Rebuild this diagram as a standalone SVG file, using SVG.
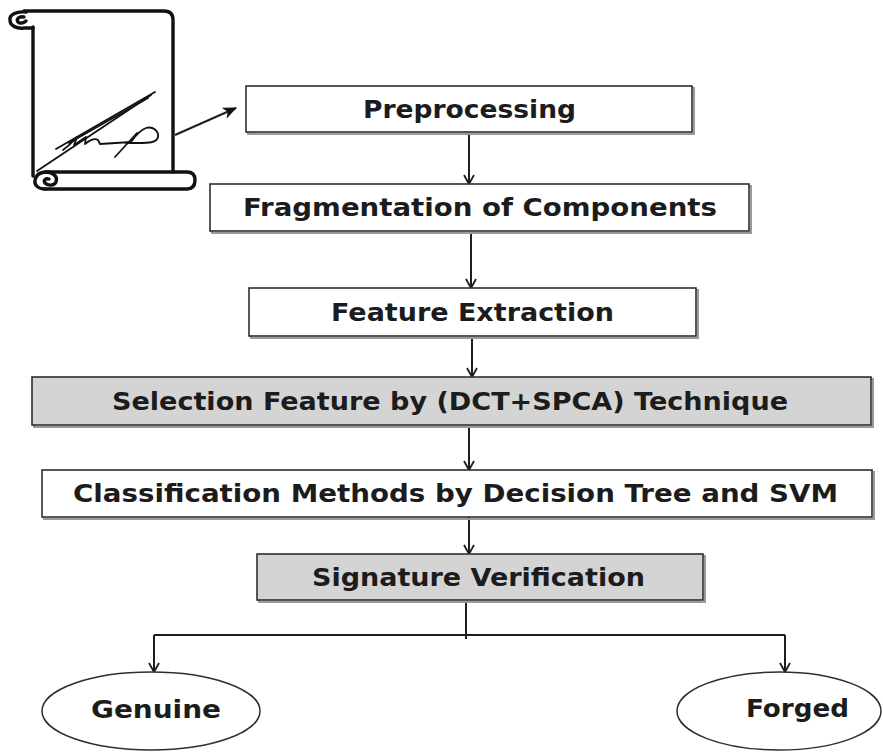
<svg xmlns="http://www.w3.org/2000/svg" width="883" height="752" viewBox="0 0 883 752">
<style>
.box{fill:#ffffff;stroke:#2e2e2e;stroke-width:1.6}
.gray{fill:#d4d4d4}
.shadow{fill:none;stroke:#9a9a9a;stroke-width:2}
.t{font-family:"DejaVu Sans","Liberation Sans",sans-serif;font-weight:700;font-size:25px;fill:#1c1c1c}
.c{fill:none;stroke:#1e1e1e;stroke-width:2}
.ell{fill:#ffffff;stroke:#2e2e2e;stroke-width:1.5}
.ink{fill:none;stroke:#111;stroke-width:3.4;stroke-linecap:round;stroke-linejoin:round}
.pen{fill:none;stroke:#111;stroke-width:1.8;stroke-linecap:round;stroke-linejoin:round}
</style>
<defs>
<marker id="v" viewBox="0 0 12 12" refX="11" refY="6" markerWidth="12" markerHeight="12" markerUnits="userSpaceOnUse" orient="auto">
<path d="M2,1 L11,6 L2,11" fill="none" stroke="#1e1e1e" stroke-width="1.8"/>
</marker>
<marker id="fa" viewBox="0 0 14 12" refX="13" refY="6" markerWidth="14" markerHeight="12" markerUnits="userSpaceOnUse" orient="auto">
<path d="M0,0 L14,6 L0,12 L4,6 Z" fill="#111"/>
</marker>
</defs>
<rect width="883" height="752" fill="#ffffff"/>

<g id="scroll">
<path class="ink" d="M33,27 L33,176"/>
<path class="ink" d="M24,11 L164,11 Q173,11 173,20 L173,172"/>
<path class="ink" d="M26,12 C16,11 9,15 10,20 C10,26 17,29 24,28 L33,28"/>
<path class="ink" d="M24,17 C19,16 16,19 18,22 C20,24 24,23 26,21"/>
<path class="ink" d="M45,172 L187,172 Q195,172 195,180 Q195,189 187,189 L45,189"/>
<path class="ink" d="M45,189 C38,189 34,185 35,180 C36,174 41,172 47,172 C54,173 58,177 56,182 C54,186 48,186 45,183 C43,180 46,178 49,179"/>
<path class="pen" stroke-width="1.2" d="M37,171 L151,95"/>
<path class="pen" stroke-width="2.4" d="M155,92 L56,149"/>
<path class="pen" d="M148,98 L69,143"/>
<path class="pen" d="M63,150 C70,145 74,140 77,137 L74,145 C80,141 84,138 86,137 L85,144 C90,140 95,138 98,140 L100,144 L131,142 C136,135 140,130 146,128 C153,126 159,131 158,137 C157,143 148,143 138,143 L126,143"/>
<path class="pen" d="M137,133 L115,157"/>
</g>

<g id="connectors">
<line class="c" x1="175" y1="135" x2="236" y2="108" marker-end="url(#fa)"/>
<line class="c" x1="469" y1="134" x2="469" y2="184" marker-end="url(#v)"/>
<line class="c" x1="471" y1="233" x2="471" y2="288" marker-end="url(#v)"/>
<line class="c" x1="472" y1="338" x2="472" y2="377" marker-end="url(#v)"/>
<line class="c" x1="469" y1="427" x2="469" y2="470" marker-end="url(#v)"/>
<line class="c" x1="469" y1="512" x2="469" y2="554" marker-end="url(#v)"/>
<line class="c" x1="466" y1="602" x2="466" y2="639"/>
<line class="c" x1="154" y1="635" x2="785" y2="635"/>
<line class="c" x1="154" y1="635" x2="154" y2="672" marker-end="url(#v)"/>
<line class="c" x1="785" y1="635" x2="785" y2="672" marker-end="url(#v)"/>
</g>

<g id="preprocessing">
<rect class="shadow" x="248" y="88" width="446" height="46"/>
<rect class="box" x="246" y="86" width="446" height="46"/>
<text class="t" x="363" y="118" textLength="213" lengthAdjust="spacingAndGlyphs">Preprocessing</text>
</g>

<g id="fragmentation">
<rect class="shadow" x="212" y="186" width="539" height="47"/>
<rect class="box" x="210" y="184" width="539" height="47"/>
<text class="t" x="243" y="216" textLength="474" lengthAdjust="spacingAndGlyphs">Fragmentation of Components</text>
</g>

<g id="feature-extraction">
<rect class="shadow" x="251" y="290" width="447" height="48"/>
<rect class="box" x="249" y="288" width="447" height="48"/>
<text class="t" x="331" y="321" textLength="283" lengthAdjust="spacingAndGlyphs">Feature Extraction</text>
</g>

<g id="selection">
<rect class="shadow" x="34" y="379" width="839" height="48"/>
<rect class="box gray" x="32" y="377" width="839" height="48"/>
<text class="t" x="112" y="410" textLength="676" lengthAdjust="spacingAndGlyphs">Selection Feature by (DCT+SPCA) Technique</text>
</g>

<g id="classification">
<rect class="shadow" x="44" y="472" width="830" height="47"/>
<rect class="box" x="42" y="470" width="830" height="47"/>
<text class="t" x="73" y="502" textLength="765" lengthAdjust="spacingAndGlyphs">Classification Methods by Decision Tree and SVM</text>
</g>

<g id="signature-verification">
<rect class="shadow" x="259" y="556" width="446" height="46"/>
<rect class="box gray" x="257" y="554" width="446" height="46"/>
<text class="t" x="312" y="586" textLength="333" lengthAdjust="spacingAndGlyphs">Signature Verification</text>
</g>

<g id="genuine">
<ellipse class="ell" cx="151" cy="711" rx="109" ry="39"/>
<text class="t" x="91" y="718" textLength="130" lengthAdjust="spacingAndGlyphs">Genuine</text>
</g>

<g id="forged">
<ellipse class="ell" cx="779" cy="711" rx="102" ry="39"/>
<text class="t" x="746" y="717" textLength="103" lengthAdjust="spacingAndGlyphs">Forged</text>
</g>
</svg>
